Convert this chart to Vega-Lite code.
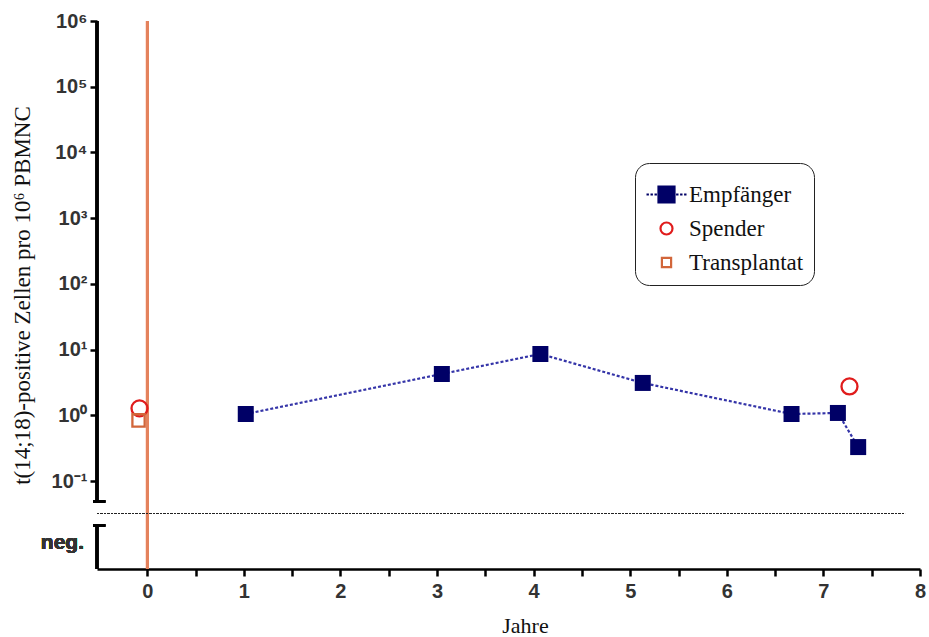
{
  "$schema": "https://vega.github.io/schema/vega-lite/v6.json",
  "width": 823,
  "height": 548,
  "autosize": {"type": "none"},
  "padding": {"left": 97, "top": 21, "right": 9, "bottom": 68},
  "background": "white",
  "config": {"view": {"stroke": null}},
  "data": {
    "values": [
      {"series": "Empfänger", "jahre": 1.02, "wert": 1.05},
      {"series": "Empfänger", "jahre": 3.05, "wert": 4.27},
      {"series": "Empfänger", "jahre": 4.07, "wert": 8.6},
      {"series": "Empfänger", "jahre": 5.13, "wert": 3.12},
      {"series": "Empfänger", "jahre": 6.67, "wert": 1.05},
      {"series": "Empfänger", "jahre": 7.15, "wert": 1.09},
      {"series": "Empfänger", "jahre": 7.36, "wert": 0.33},
      {"series": "Spender", "jahre": -0.08, "wert": 1.28},
      {"series": "Spender", "jahre": 7.27, "wert": 2.76},
      {"series": "Transplantat", "jahre": -0.09, "wert": 0.84}
    ]
  },
  "layer": [
    {
      "mark": {"type": "rule", "color": "#E4825C", "strokeWidth": 2.5},
      "encoding": {
        "x": {"datum": 0, "type": "quantitative", "scale": {"domain": [-0.52, 8], "nice": false, "zero": false}}
      }
    },
    {
      "mark": {"type": "rule", "color": "#222222", "strokeWidth": 1.2, "strokeDash": [2, 1.5]},
      "encoding": {
        "x": {"datum": -0.52, "type": "quantitative", "scale": {"domain": [-0.52, 8], "nice": false, "zero": false}},
        "x2": {"datum": 7.85},
        "y": {"datum": 0.0322, "type": "quantitative", "scale": {"type": "log", "domain": [0.00461, 1000000], "nice": false}}
      }
    },
    {
      "mark": {"type": "rule", "color": "black", "strokeWidth": 2.5},
      "encoding": {
        "x": {"datum": -0.52, "type": "quantitative", "scale": {"domain": [-0.52, 8], "nice": false, "zero": false}},
        "y": {"datum": 0.0491, "type": "quantitative", "scale": {"type": "log", "domain": [0.00461, 1000000], "nice": false}},
        "y2": {"datum": 1000000}
      }
    },
    {
      "mark": {"type": "rule", "color": "black", "strokeWidth": 2.5},
      "encoding": {
        "x": {"datum": -0.52, "type": "quantitative", "scale": {"domain": [-0.52, 8], "nice": false, "zero": false}},
        "y": {"datum": 0.00461, "type": "quantitative", "scale": {"type": "log", "domain": [0.00461, 1000000], "nice": false}},
        "y2": {"datum": 0.0212}
      }
    },
    {
      "mark": {"type": "rule", "color": "black", "strokeWidth": 2.5},
      "encoding": {
        "x": {"datum": -0.56, "type": "quantitative", "scale": {"domain": [-0.52, 8], "nice": false, "zero": false}},
        "x2": {"datum": -0.435},
        "y": {"datum": 0.0491, "type": "quantitative", "scale": {"type": "log", "domain": [0.00461, 1000000], "nice": false}}
      }
    },
    {
      "mark": {"type": "rule", "color": "black", "strokeWidth": 2.5},
      "encoding": {
        "x": {"datum": -0.56, "type": "quantitative", "scale": {"domain": [-0.52, 8], "nice": false, "zero": false}},
        "x2": {"datum": -0.435},
        "y": {"datum": 0.0212, "type": "quantitative", "scale": {"type": "log", "domain": [0.00461, 1000000], "nice": false}}
      }
    },
    {
      "mark": {"type": "text", "text": "neg.", "align": "right", "baseline": "middle", "dx": -13, "font": "Liberation Sans", "fontWeight": "bold", "fontSize": 21, "color": "#333333"},
      "encoding": {
        "x": {"datum": -0.52, "type": "quantitative", "scale": {"domain": [-0.52, 8], "nice": false, "zero": false}},
        "y": {"datum": 0.0115, "type": "quantitative", "scale": {"type": "log", "domain": [0.00461, 1000000], "nice": false}}
      }
    },
    {
      "transform": [{"filter": "datum.series === 'Empfänger'"}],
      "mark": {"type": "line", "color": "#3434A8", "strokeWidth": 2.2, "strokeDash": [3, 2]},
      "encoding": {
        "x": {"field": "jahre", "type": "quantitative", "scale": {"domain": [-0.52, 8], "nice": false, "zero": false}},
        "y": {"field": "wert", "type": "quantitative", "scale": {"type": "log", "domain": [0.00461, 1000000], "nice": false}}
      }
    },
    {
      "transform": [{"filter": "datum.series === 'Empfänger'"}],
      "mark": {"type": "square", "filled": true, "color": "#000066", "size": 256, "opacity": 1},
      "encoding": {
        "x": {"field": "jahre", "type": "quantitative", "scale": {"domain": [-0.52, 8], "nice": false, "zero": false}},
        "y": {"field": "wert", "type": "quantitative", "scale": {"type": "log", "domain": [0.00461, 1000000], "nice": false}}
      }
    },
    {
      "transform": [{"filter": "datum.series !== 'Empfänger'"}],
      "mark": {"type": "point", "filled": false, "strokeWidth": 2.3, "opacity": 1, "size": 2844},
      "encoding": {
        "x": {
          "field": "jahre", "type": "quantitative",
          "scale": {"domain": [-0.52, 8], "nice": false, "zero": false},
          "axis": {
            "title": "Jahre",
            "titleFont": "Liberation Serif", "titleFontSize": 22, "titleFontWeight": "normal", "titleColor": "#111111", "titlePadding": 14, "titleX": 428,
            "values": [0, 0.5, 1, 1.5, 2, 2.5, 3, 3.5, 4, 4.5, 5, 5.5, 6, 6.5, 7, 7.5, 8],
            "labelExpr": "datum.value % 1 === 0 ? format(datum.value, 'd') : ''",
            "labelFont": "Liberation Sans", "labelFontWeight": "bold", "labelFontSize": 20, "labelColor": "#333333", "labelPadding": 5,
            "tickColor": "black", "tickWidth": 2.5, "tickSize": 7,
            "domainColor": "black", "domainWidth": 2.5,
            "grid": false, "labelFlush": false, "labelOverlap": false
          }
        },
        "y": {
          "field": "wert", "type": "quantitative",
          "scale": {"type": "log", "domain": [0.00461, 1000000], "nice": false},
          "axis": {
            "title": "t(14;18)-positive Zellen pro 10⁶ PBMNC",
            "titleFont": "Liberation Serif", "titleFontSize": 23, "titleFontWeight": "normal", "titleColor": "#111111", "titlePadding": 17,
            "values": [0.1, 1, 10, 100, 1000, 10000, 100000, 1000000],
            "labelExpr": "datum.value >= 999999 ? '10⁶' : datum.value >= 99999 ? '10⁵' : datum.value >= 9999 ? '10⁴' : datum.value >= 999 ? '10³' : datum.value >= 99 ? '10²' : datum.value >= 9 ? '10¹' : datum.value >= 0.9 ? '10⁰' : '10⁻¹'",
            "labelFont": "Liberation Sans", "labelFontWeight": "bold", "labelFontSize": 20, "labelColor": "#333333", "labelPadding": 3,
            "tickColor": "black", "tickWidth": 2.5, "tickSize": 7,
            "domain": false, "grid": false, "labelFlush": false, "labelOverlap": false
          }
        },
        "shape": {
          "field": "series", "type": "nominal",
          "scale": {
            "domain": ["Empfänger", "Spender", "Transplantat"],
            "range": [
              "M-1,0H-0.88M-0.8,0H-0.68M-0.6,0H-0.48M0.48,0H0.6M0.68,0H0.8M0.88,0H1M-0.4,-0.4H0.4V0.4H-0.4Z",
              "M-0.3,0A0.3,0.3,0,1,0,0.3,0A0.3,0.3,0,1,0,-0.3,0Z",
              "M-0.23,-0.23H0.23V0.23H-0.23Z"
            ]
          }
        },
        "fill": {
          "field": "series", "type": "nominal",
          "scale": {"domain": ["Empfänger", "Spender", "Transplantat"], "range": ["#000066", "transparent", "transparent"]}
        },
        "color": {
          "field": "series", "type": "nominal",
          "scale": {"domain": ["Empfänger", "Spender", "Transplantat"], "range": ["#000066", "#E01C1C", "#D2663A"]},
          "legend": {
            "title": null,
            "orient": "none", "legendX": 538, "legendY": 142,
            "strokeColor": "#222222", "fillColor": "white", "cornerRadius": 14, "padding": 10,
            "labelFont": "Liberation Serif", "labelFontSize": 23, "labelColor": "#111111", "labelOffset": 1,
            "symbolSize": 1600, "symbolStrokeWidth": 2.2, "rowPadding": -5.5
          }
        }
      }
    }
  ]
}
